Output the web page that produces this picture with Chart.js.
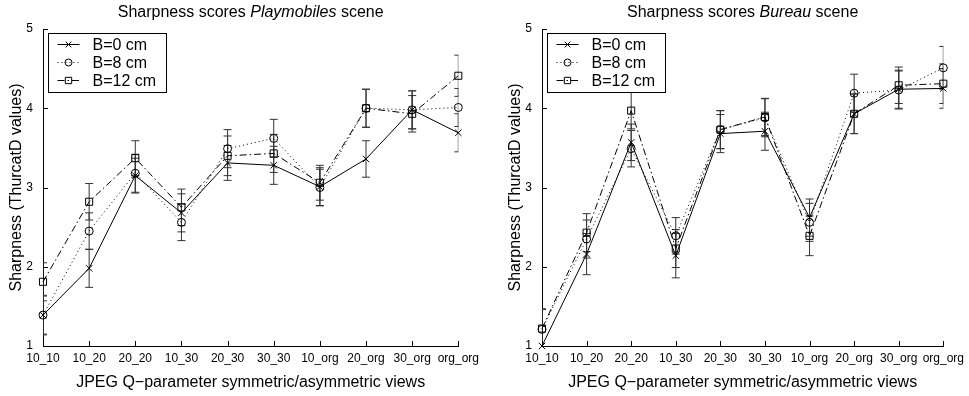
<!DOCTYPE html>
<html>
<head>
<meta charset="utf-8">
<script src="https://cdn.jsdelivr.net/npm/chart.js"></script>
<style>
  body { margin: 0; background: #fff; }
  #wrap { position: relative; width: 969px; height: 396px; }
  #c-left { position: absolute; left: 0; top: 0; }
  #c-right { position: absolute; left: 499px; top: 0; }
</style>
</head>
<body>
<div id="wrap">
  <canvas id="c-left" width="484" height="396"></canvas>
  <canvas id="c-right" width="470" height="396"></canvas>
</div>
<script>
// ==========================================
// 1. DATOS
// ==========================================

const categorias = ['10_10', '10_20', '20_20', '10_30', '20_30', '30_30', '10_org', '20_org', '30_org', 'org_org'];
const yTicks = [1, 2, 3, 4, 5];

// Playmobiles
const playB0 = [1.39, 1.98, 3.15, 2.68, 3.31, 3.28, 3.01, 3.36, 3.98, 3.69];
const playB8 = [1.39, 2.45, 3.18, 2.56, 3.49, 3.62, 3.00, 4.00, 3.98, 4.01];
const playB12 = [1.81, 2.82, 3.37, 2.75, 3.40, 3.43, 3.06, 4.00, 3.93, 4.41];
const playErrB0 = [0.25, 0.24, 0.22, 0.24, 0.22, 0.24, 0.24, 0.23, 0.24, 0.24];
const playErrB8 = [0.24, 0.23, 0.24, 0.23, 0.24, 0.24, 0.23, 0.24, 0.24, 0.24];
const playErrB12 = [0.24, 0.23, 0.22, 0.23, 0.25, 0.24, 0.22, 0.24, 0.23, 0.26];

// Bureau
const burB0 = [1.00, 2.16, 3.57, 2.14, 3.68, 3.71, 2.62, 3.93, 4.24, 4.25];
const burB8 = [1.21, 2.35, 3.49, 2.39, 3.73, 3.88, 2.56, 4.19, 4.23, 4.51];
const burB12 = [1.22, 2.43, 3.97, 2.23, 3.73, 3.89, 2.39, 3.93, 4.29, 4.31];
const burErrB0 = [0.25, 0.26, 0.23, 0.28, 0.24, 0.24, 0.235, 0.25, 0.24, 0.25];
const burErrB8 = [0.25, 0.24, 0.23, 0.23, 0.24, 0.24, 0.24, 0.24, 0.24, 0.27];
const burErrB12 = [0.25, 0.24, 0.23, 0.24, 0.24, 0.235, 0.25, 0.25, 0.23, 0.25];

// títulos: [normal, cursiva, normal]
const tituloPlay = ['Sharpness scores ', 'Playmobiles', ' scene'];
const tituloBur = ['Sharpness scores ', 'Bureau', ' scene'];

const FONT = 'Liberation Sans, Arial, sans-serif';

// ==========================================
// 2. PLUGINS (título, barras de error, ticks interiores, leyenda)
// ==========================================

const mixedTitle = {
    id: 'mixedTitle',
    afterDraw(chart) {
        const partes = chart.config.options.tituloPartes;
        const {ctx, chartArea} = chart;
        ctx.save();
        ctx.fillStyle = '#000';
        ctx.textBaseline = 'middle';
        const fuentes = partes.map((p, i) => (i === 1 ? 'italic ' : '') + '16px ' + FONT);
        let total = 0;
        partes.forEach((p, i) => { ctx.font = fuentes[i]; total += ctx.measureText(p).width; });
        let x = (chartArea.left + chartArea.right) / 2 - total / 2;
        partes.forEach((p, i) => {
            ctx.font = fuentes[i];
            ctx.fillText(p, x, 13);
            x += ctx.measureText(p).width;
        });
        ctx.restore();
    }
};

const errorBars = {
    id: 'errorBars',
    beforeDatasetsDraw(chart) {
        const {ctx, chartArea, scales} = chart;
        ctx.save();
        ctx.beginPath();
        ctx.rect(chartArea.left, chartArea.top, chartArea.right - chartArea.left, chartArea.bottom - chartArea.top);
        ctx.clip();
        ctx.strokeStyle = '#333';
        ctx.lineWidth = 1;
        chart.data.datasets.forEach(ds => {
            ds.data.forEach((v, i) => {
                const e = ds.err[i];
                const x = scales.x.getPixelForValue(i);
                const y1 = scales.y.getPixelForValue(v + e);
                const y2 = scales.y.getPixelForValue(v - e);
                ctx.beginPath();
                ctx.moveTo(x, y1); ctx.lineTo(x, y2);
                ctx.moveTo(x - 4, y1); ctx.lineTo(x + 4, y1);
                ctx.moveTo(x - 4, y2); ctx.lineTo(x + 4, y2);
                ctx.stroke();
            });
        });
        ctx.restore();
    }
};

const innerTicks = {
    id: 'innerTicks',
    afterDatasetsDraw(chart) {
        const {ctx, scales} = chart;
        ctx.save();
        ctx.strokeStyle = '#000';
        ctx.lineWidth = 1;
        ctx.beginPath();
        scales.x.ticks.forEach((t, i) => {
            const x = Math.round(scales.x.getPixelForTick(i)) + 0.5;
            ctx.moveTo(x, scales.x.top);
            ctx.lineTo(x, scales.x.top - 5);
        });
        scales.y.ticks.forEach(t => {
            const y = Math.round(scales.y.getPixelForValue(t.value)) + 0.5;
            ctx.moveTo(scales.y.right, y);
            ctx.lineTo(scales.y.right + 5, y);
        });
        ctx.stroke();
        ctx.restore();
    }
};

const boxLegend = {
    id: 'boxLegend',
    afterDraw(chart) {
        const {ctx, chartArea} = chart;
        const x0 = chartArea.left + 5.5;
        const y0 = chartArea.top + 4.5;
        ctx.save();
        ctx.fillStyle = '#fff';
        ctx.strokeStyle = '#000';
        ctx.lineWidth = 1;
        ctx.fillRect(x0, y0, 118, 59);
        ctx.strokeRect(x0, y0, 118, 59);
        ctx.font = '16px ' + FONT;
        ctx.textBaseline = 'middle';
        chart.data.datasets.forEach((ds, i) => {
            const y = y0 + 11 + i * 18;
            ctx.strokeStyle = '#000';
            ctx.setLineDash(ds.borderDash || []);
            ctx.beginPath();
            ctx.moveTo(x0 + 9, y);
            ctx.lineTo(x0 + 31, y);
            ctx.stroke();
            ctx.setLineDash([]);
            ctx.fillStyle = 'rgba(0,0,0,0)';
            Chart.helpers.drawPoint(ctx, {pointStyle: ds.pointStyle, radius: ds.pointRadius - 0.5, borderWidth: 1, rotation: 0}, x0 + 20, y);
            ctx.fillStyle = '#000';
            ctx.fillText(ds.label, x0 + 44, y + 1);
        });
        ctx.restore();
    }
};

// ==========================================
// 3. GRÁFICOS
// ==========================================

function serie(label, data, err, style) {
    return Object.assign({
        label: label,
        data: data,
        err: err,
        borderColor: '#000',
        borderWidth: 1,
        pointBorderColor: '#000',
        pointBackgroundColor: 'rgba(0,0,0,0)',
        pointBorderWidth: 1,
        tension: 0,
        clip: false
    }, style);
}

function crearGrafico(canvasId, titulo, b0, b8, b12, e0, e8, e12) {
    new Chart(document.getElementById(canvasId), {
        type: 'line',
        data: {
            labels: categorias,
            datasets: [
                serie('B=0 cm', b0, e0, {pointStyle: 'crossRot', pointRadius: 4.5}),
                serie('B=8 cm', b8, e8, {pointStyle: 'circle', pointRadius: 4, borderDash: [1, 3]}),
                serie('B=12 cm', b12, e12, {pointStyle: 'rect', pointRadius: 5, borderDash: [7, 3, 1.5, 3]})
            ]
        },
        options: {
            responsive: false,
            animation: false,
            tituloPartes: titulo,
            layout: { padding: { top: 29, left: 0, right: 0, bottom: 0 } },
            plugins: {
                legend: { display: false },
                tooltip: { enabled: false },
                title: { display: false }
            },
            scales: {
                x: {
                    offset: false,
                    afterFit: s => { s.height = 50; },
                    grid: { display: false, drawTicks: false, tickLength: 0 },
                    border: { display: true, color: '#000', width: 1 },
                    ticks: {
                        autoSkip: false, maxRotation: 0, minRotation: 0,
                        padding: 5, color: '#000',
                        font: { family: FONT, size: 12 }
                    },
                    title: {
                        display: true,
                        text: 'JPEG Q\u2212parameter symmetric/asymmetric views',
                        color: '#000',
                        font: { family: FONT, size: 16 },
                        padding: { top: 0, bottom: 4 }
                    }
                },
                y: {
                    min: 1,
                    max: 5,
                    afterFit: s => { s.width = 43; },
                    afterBuildTicks: s => { s.ticks = yTicks.map(v => ({value: v})); },
                    grid: { display: false, drawTicks: false, tickLength: 0 },
                    border: { display: true, color: '#000', width: 1 },
                    ticks: {
                        padding: 10, color: '#000',
                        font: { family: FONT, size: 12 }
                    },
                    title: {
                        display: true,
                        text: 'Sharpness (ThurcatD values)',
                        color: '#000',
                        font: { family: FONT, size: 16 },
                        padding: { top: 7, bottom: 0 }
                    }
                }
            }
        },
        plugins: [errorBars, innerTicks, boxLegend, mixedTitle]
    });
}

crearGrafico('c-left', tituloPlay, playB0, playB8, playB12, playErrB0, playErrB8, playErrB12);
crearGrafico('c-right', tituloBur, burB0, burB8, burB12, burErrB0, burErrB8, burErrB12);
</script>
</body>
</html>
